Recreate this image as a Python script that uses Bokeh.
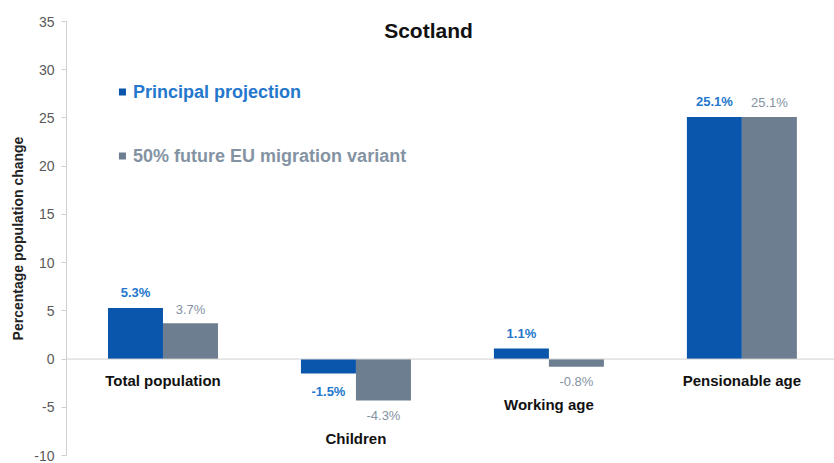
from bokeh.plotting import figure
from bokeh.models import Range1d, Span, Label, ColumnDataSource, FixedTicker, PrintfTickFormatter
from bokeh.core.properties import value
from bokeh.embed import file_html
from bokeh.resources import INLINE

categories = ["Total population", "Children", "Working age", "Pensionable age"]
principal = [5.3, -1.5, 1.1, 25.1]
variant = [3.7, -4.3, -0.8, 25.1]
series_names = ["Principal projection", "50% future EU migration variant"]
y_ticks = [-10, -5, 0, 5, 10, 15, 20, 25, 30, 35]

BLUE = "#0B56AD"
GREY = "#6C7E90"
BLUE_TXT = "#2477CC"
GREY_TXT = "#8493A3"
FONT = "Liberation Sans"

p = figure(width=834, height=463, output_backend="svg", toolbar_location=None,
           x_range=Range1d(-0.5, 3.48), y_range=Range1d(-10, 35),
           min_border_left=66, min_border_right=0, min_border_top=21, min_border_bottom=8)
p.outline_line_color = None
p.xgrid.visible = False
p.ygrid.visible = False
p.xaxis.visible = False

ya = p.yaxis[0]
ya.ticker = FixedTicker(ticks=y_ticks)
ya.formatter = PrintfTickFormatter(format="%d")
ya.axis_line_color = "#CFCFCF"
ya.major_tick_line_color = "#CFCFCF"
ya.major_tick_out = 5
ya.major_tick_in = 0
ya.minor_tick_line_color = None
ya.major_label_text_font = FONT
ya.major_label_text_font_size = "14px"
ya.major_label_text_color = "#595959"
ya.major_label_standoff = 7
ya.axis_label = "Percentage population change"
ya.axis_label_text_font = FONT
ya.axis_label_text_font_size = "14px"
ya.axis_label_text_font_style = "bold"
ya.axis_label_text_color = "#222222"
ya.axis_label_standoff = 5

p.add_layout(Span(location=0, dimension="width", line_color="#D0D0D0", line_width=1))

w = 0.285
xs = list(range(len(categories)))
xb = [x - w / 2 for x in xs]
xg = [x + w / 2 for x in xs]
p.vbar(x=xb, top=principal, bottom=0, width=w, fill_color=BLUE, line_color=None)
p.vbar(x=xg, top=variant, bottom=0, width=w, fill_color=GREY, line_color=None)

def lab(v):
    return f"{v:.1f}%"

src_b = ColumnDataSource(dict(x=xb, y=principal, t=[lab(v) for v in principal],
                              off=[-15 if v >= 0 else 18 for v in principal]))
src_g = ColumnDataSource(dict(x=xg, y=variant, t=[lab(v) for v in variant],
                              off=[-14 if v >= 0 else 15 for v in variant]))
p.text(x="x", y="y", text="t", y_offset="off", source=src_b, text_align="center",
       text_baseline="middle", text_font=value(FONT), text_font_size="13px",
       text_font_style="bold", text_color=BLUE_TXT)
p.text(x="x", y="y", text="t", y_offset="off", source=src_g, text_align="center",
       text_baseline="middle", text_font=value(FONT), text_font_size="13px",
       text_color=GREY_TXT)

cy = [min(0, a, b) for a, b in zip(principal, variant)]
coff = [21 if c >= 0 else 38 for c in cy]
src_c = ColumnDataSource(dict(x=xs, y=cy, t=categories, off=coff))
p.text(x="x", y="y", text="t", y_offset="off", source=src_c, text_align="center",
       text_baseline="middle", text_font=value(FONT), text_font_size="15px",
       text_font_style="bold", text_color="#111111")

p.add_layout(Label(x=1.376, y=34.1, text="Scotland", text_align="center",
                   text_baseline="middle", text_font=FONT, text_font_size="21px",
                   text_font_style="bold", text_color="#111111"))

leg_y = [27.7, 21.05]
p.scatter(x=[-0.21, -0.21], y=leg_y, marker="square", size=7,
          fill_color=[BLUE, GREY], line_color=None)
p.text(x=[-0.155], y=[leg_y[0]], text=[series_names[0]], text_baseline="middle",
       text_font=value(FONT), text_font_size="18px", text_font_style="bold",
       text_color=BLUE_TXT)
p.text(x=[-0.155], y=[leg_y[1]], text=[series_names[1]], text_baseline="middle",
       text_font=value(FONT), text_font_size="18px", text_font_style="bold",
       text_color=GREY_TXT)

open("out.html", "w").write(file_html(p, INLINE))
